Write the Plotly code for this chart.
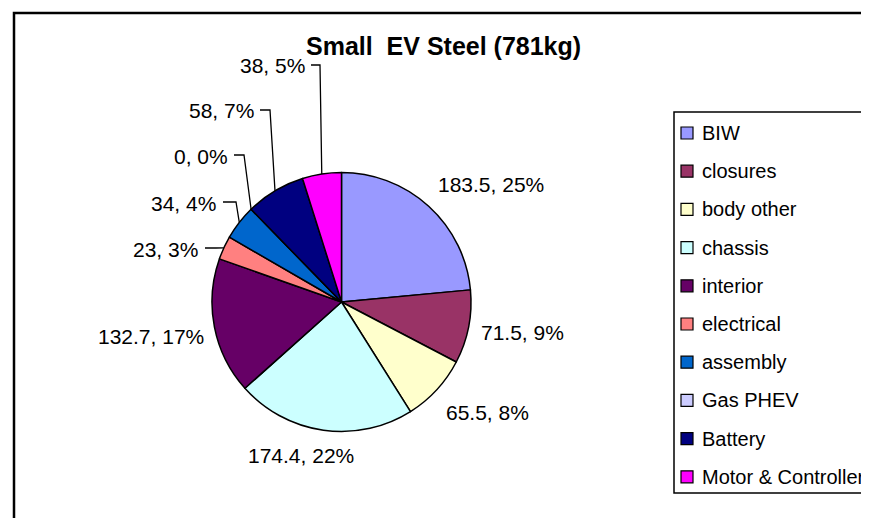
import math
import plotly.graph_objects as go

# ---- data ----
categories = ["BIW", "closures", "body other", "chassis", "interior",
              "electrical", "assembly", "Gas PHEV", "Battery", "Motor & Controller"]
mass_kg = [183.5, 71.5, 65.5, 174.4, 132.7, 23, 34, 0, 58, 38]
shown_pct = [25, 9, 8, 22, 17, 3, 4, 0, 7, 5]
colors = ["#9999FF", "#993366", "#FFFFCC", "#CCFFFF", "#660066",
          "#FF8080", "#0066CC", "#CCCCFF", "#000080", "#FF00FF"]
title_text = "Small\u00a0 EV Steel (781kg)"

# ---- layout (pixels) ----
W, H = 869, 518
CX, CY, R = 333.5, 294.0, 129.5
FONT = "Liberation Sans, Arial, sans-serif"
FS = 21
LEG_FS = 20

def px(x):
    return x / W

def py(y):
    return 1 - y / H

# label placement: (x, y, anchor) ; leader: (start_x, elbow_x, elbow_y) or None
label_pos = [(428, 176, "left"), (471, 324, "left"), (436, 404, "left"),
             (238, 447, "left"), (198, 328, "right"), (192, 241, "right"),
             (210, 195, "right"), (222, 148, "right"), (248, 103, "right"),
             (299, 57, "right")]
leaders = [None, None, None, None, None,
           (197, 208, 240), (215, 228, 194), (226, 236, 147),
           (252, 262, 102), (303, 312, 57)]

fig = go.Figure()
fig.add_trace(go.Pie(
    labels=categories, values=mass_kg, sort=False, direction="clockwise",
    rotation=0, textinfo="none", hoverinfo="label+value+percent",
    marker=dict(colors=colors, line=dict(color="black", width=1.5)),
    domain=dict(x=[px(CX - R), px(CX + R)], y=[py(CY + R), py(CY - R)]),
    showlegend=False,
))

annotations = []
shapes = []
total = sum(mass_kg)
cum = 0.0
for i, (cat, m, p) in enumerate(zip(categories, mass_kg, shown_pct)):
    mid = (cum + m / 2) / total
    cum += m
    ang = 2 * math.pi * mid
    ex, ey = CX + R * math.sin(ang), CY - R * math.cos(ang)
    lx, ly, anc = label_pos[i]
    txt = f"{m:g}, {p}%"
    annotations.append(dict(x=px(lx), y=py(ly), xref="paper", yref="paper",
                            text=txt, showarrow=False, xanchor=anc, yanchor="middle",
                            font=dict(family=FONT, size=FS, color="black")))
    if leaders[i] is not None:
        sx, bx, by = leaders[i]
        path = f"M {px(sx)} {py(by)} L {px(bx)} {py(by)} L {px(ex)} {py(ey)}"
        shapes.append(dict(type="path", xref="paper", yref="paper", path=path,
                           line=dict(color="black", width=1.3)))

# title
annotations.append(dict(x=px(296), y=py(38), xref="paper", yref="paper",
                        text=f"<b>{title_text}</b>", showarrow=False,
                        xanchor="left", yanchor="middle",
                        font=dict(family=FONT, size=25, color="black")))

# outer chart border (cut off at right/bottom)
shapes.append(dict(type="rect", xref="paper", yref="paper",
                   x0=px(6), x1=px(900), y0=py(560), y1=py(5),
                   line=dict(color="black", width=2.5)))

# legend box
shapes.append(dict(type="rect", xref="paper", yref="paper",
                   x0=px(666), x1=px(900), y0=py(485), y1=py(104),
                   line=dict(color="black", width=1.5), fillcolor="white", layer="below"))
for i, (cat, c) in enumerate(zip(categories, colors)):
    yc = 125 + 38.2 * i
    shapes.append(dict(type="rect", xref="paper", yref="paper",
                       x0=px(673), x1=px(685), y0=py(yc + 6), y1=py(yc - 6),
                       line=dict(color="black", width=1.2), fillcolor=c))
    annotations.append(dict(x=px(692), y=py(yc), xref="paper", yref="paper",
                            text=cat, showarrow=False, xanchor="left", yanchor="middle",
                            font=dict(family=FONT, size=LEG_FS, color="black")))

fig.update_layout(
    width=W, height=H, margin=dict(l=0, r=0, t=0, b=0),
    paper_bgcolor="white", plot_bgcolor="white",
    annotations=annotations, shapes=shapes, showlegend=False,
)
fig.write_html("out.html")
